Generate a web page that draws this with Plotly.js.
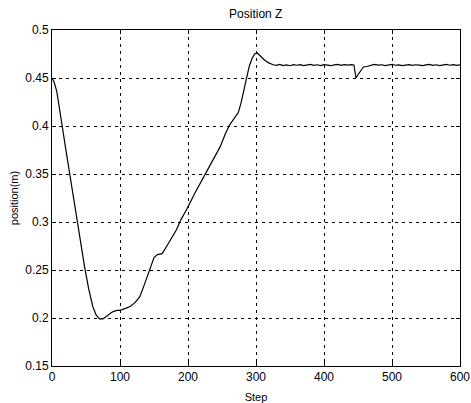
<!DOCTYPE html>
<html>
<head>
<meta charset="utf-8">
<script src="https://cdn.plot.ly/plotly-3.0.1.min.js"></script>
<style>
  html, body { margin: 0; padding: 0; background: #ffffff; }
  #chart { width: 471px; height: 403px; }
</style>
</head>
<body>
<div id="chart"></div>
<script>
// Step index of each sample
const steps = [
  0, 3, 7, 11, 15, 20, 26, 33, 38, 43, 48, 54, 60, 65, 70, 75, 80, 88, 95, 100,
  108, 115, 122, 129, 136, 143, 150, 155, 162, 168, 175, 183, 190, 198, 210, 220,
  227, 237, 247, 255, 261, 268, 274, 278, 282, 286, 290, 294, 298, 302, 306, 312,
  318, 325, 330, 335, 340, 345, 350, 355, 360, 365, 370, 375, 380, 385, 390, 395,
  400, 405, 410, 415, 420, 425, 430, 435, 440, 444, 447, 452, 458, 463, 468, 474,
  480, 485, 490, 495, 500, 505, 510, 515, 520, 525, 530, 535, 540, 545, 550, 555,
  560, 565, 570, 575, 580, 585, 590, 595, 600
];

// Measured Z position (m)
const posZ = [
  0.450, 0.446, 0.436, 0.420, 0.400, 0.377, 0.350, 0.318, 0.300, 0.275,
  0.253, 0.230, 0.212, 0.203, 0.199, 0.199, 0.202, 0.206, 0.208, 0.208,
  0.210, 0.212, 0.216, 0.222, 0.235, 0.250, 0.263, 0.266, 0.267, 0.274,
  0.283, 0.292, 0.303, 0.313, 0.330, 0.343, 0.351, 0.364, 0.378, 0.392,
  0.401, 0.408, 0.414, 0.424, 0.436, 0.449, 0.462, 0.470, 0.475, 0.476,
  0.473, 0.469, 0.466, 0.4638, 0.4632, 0.4641, 0.4630, 0.4637, 0.4628, 0.4640,
  0.4633, 0.4639, 0.4629, 0.4636, 0.4642, 0.4631, 0.4638, 0.4630, 0.4640, 0.4634,
  0.4628, 0.4637, 0.4641, 0.4632, 0.4639, 0.4635, 0.4640, 0.4636, 0.4500, 0.4555,
  0.4615, 0.4620, 0.4628, 0.4642, 0.4634, 0.4638, 0.4630, 0.4636, 0.4641, 0.4633,
  0.4637, 0.4629, 0.4635, 0.4640, 0.4631, 0.4638, 0.4634, 0.4628, 0.4636, 0.4641,
  0.4632, 0.4638, 0.4630, 0.4636, 0.4642, 0.4633, 0.4639, 0.4631, 0.4636
];

// Axis tick values and labels
const xTicks = [0, 100, 200, 300, 400, 500, 600];
const yTicks = [0.15, 0.2, 0.25, 0.3, 0.35, 0.4, 0.45, 0.5];
const yTickText = ['0.15', '0.2', '0.25', '0.3', '0.35', '0.4', '0.45', '0.5'];

const fontFamily = 'Arial, "Liberation Sans", sans-serif';
const tickFont = { family: fontFamily, size: 12, color: '#000' };
const labelFont = { family: fontFamily, size: 11, color: '#000' };

const trace = {
  x: steps,
  y: posZ,
  type: 'scatter',
  mode: 'lines',
  line: { color: '#000', width: 1.2 },
  hoverinfo: 'skip'
};

const axisCommon = {
  showline: true,
  linecolor: '#000',
  linewidth: 1,
  mirror: 'ticks',
  ticks: 'inside',
  ticklen: 4,
  tickcolor: '#000',
  showgrid: true,
  gridcolor: '#000',
  gridwidth: 1,
  griddash: '3px,4px',
  zeroline: false,
  tickfont: tickFont
};

const layout = {
  width: 471,
  height: 403,
  margin: { l: 52, r: 11, t: 30, b: 37 },
  paper_bgcolor: '#fff',
  plot_bgcolor: '#fff',
  showlegend: false,
  title: {
    text: 'Position Z',
    font: { family: fontFamily, size: 12, color: '#000' },
    x: 0.543, xanchor: 'center',
    y: 0.965, yanchor: 'middle'
  },
  xaxis: Object.assign({}, axisCommon, {
    range: [0, 600],
    tickvals: xTicks,
    ticktext: xTicks.map(String),
    title: { text: 'Step', font: labelFont, standoff: 9 }
  }),
  yaxis: Object.assign({}, axisCommon, {
    range: [0.15, 0.5],
    tickvals: yTicks,
    ticktext: yTickText,
    title: { text: 'position(m)', font: labelFont, standoff: 4 }
  })
};

Plotly.newPlot('chart', [trace], layout, { staticPlot: true, displayModeBar: false });
</script>
</body>
</html>
